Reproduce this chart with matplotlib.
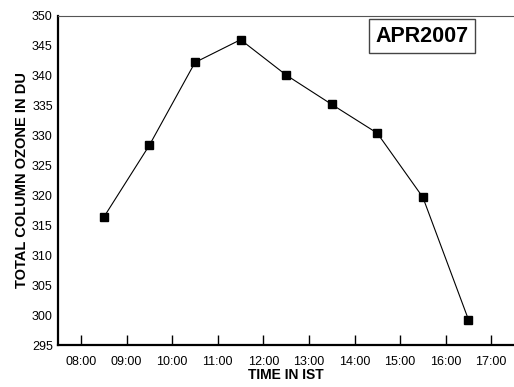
import numpy as np
import matplotlib.pyplot as plt

plt.rcParams['font.family'] = ['Liberation Sans', 'DejaVu Sans']

# half-hour observation times (hours IST) and total column ozone (DU)
hours = [8.5, 9.5, 10.5, 11.5, 12.5, 13.5, 14.5, 15.5, 16.5]
ozone = [316.4, 328.4, 342.2, 346.0, 340.1, 335.2, 330.4, 319.7, 299.3]
tick_hours = [8, 9, 10, 11, 12, 13, 14, 15, 16, 17]
tick_labels = ['08:00', '09:00', '10:00', '11:00', '12:00', '13:00',
               '14:00', '15:00', '16:00', '17:00']

fig = plt.figure(figsize=(5.14, 3.87), dpi=100)
ax = fig.add_axes([0.1134, 0.1077, 0.8866, 0.8517])

ax.plot(hours, ozone, color='black', lw=0.8, marker='s', ms=5.5,
        markerfacecolor='black')

ax.set_xlim(7.5, 17.5)
ax.set_ylim(295, 350)
ax.set_xticks(tick_hours)
ax.set_xticklabels(tick_labels)
ax.set_yticks(np.arange(295, 351, 5))

ax.tick_params(axis='x', direction='in', length=7, width=1, labelsize=9, pad=8)
ax.tick_params(axis='y', length=0, labelsize=9, pad=4)

ax.spines['right'].set_visible(False)
ax.spines['top'].set_color('#555555')
ax.spines['top'].set_linewidth(0.8)
ax.spines['left'].set_linewidth(1.6)
ax.spines['bottom'].set_linewidth(1.6)

ax.set_xlabel('TIME IN IST', fontweight='bold', fontsize=10, labelpad=0)
ax.set_ylabel('TOTAL COLUMN OZONE IN DU', fontweight='bold', fontsize=10.5, labelpad=2)

ax.text(0.798, 0.938, 'APR2007', transform=ax.transAxes, ha='center', va='center',
        fontsize=15.5, fontweight='bold',
        bbox=dict(boxstyle='square,pad=0.3', fc='white', ec='#444444', lw=1))

fig.savefig('out.png', dpi=100)
